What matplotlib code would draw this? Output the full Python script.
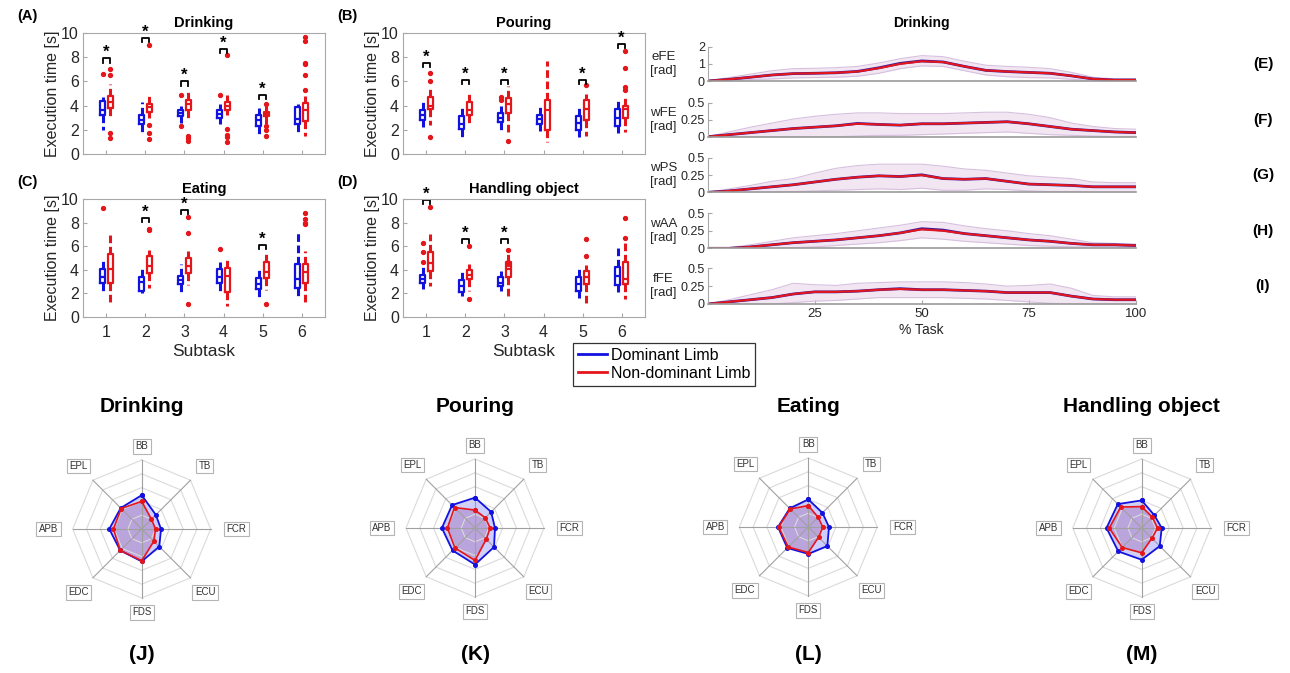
import numpy as np
import matplotlib
matplotlib.use('Agg')
import matplotlib.pyplot as plt
from matplotlib.lines import Line2D

plt.rcParams['font.family'] = ['Liberation Sans', 'DejaVu Sans']

# ---------------- data: execution time box plots (lo, q1, med, q3, hi) ----------------
subtasks = [1, 2, 3, 4, 5, 6]

drink_dom = [[2.0, 3.2, 3.6, 4.4, 4.7], [1.7, 2.5, 2.8, 3.2, 4.3], [2.6, 3.1, 3.35, 3.6, 4.0],
             [2.5, 3.0, 3.3, 3.6, 4.1], [1.5, 2.3, 2.8, 3.2, 3.8], [1.8, 2.5, 2.9, 3.85, 4.1]]
drink_dom_out = [[6.6], [], [4.9, 2.3], [4.9], [], []]
drink_nd = [[3.0, 3.8, 4.3, 4.8, 5.8], [3.0, 3.5, 3.9, 4.1, 5.0], [3.0, 3.6, 4.1, 4.5, 5.2],
            [3.2, 3.6, 4.0, 4.3, 4.9], [2.5, 3.1, 3.3, 3.5, 4.0], [1.5, 2.75, 3.6, 4.2, 4.8]]
drink_nd_out = [[6.5, 7.0, 1.7, 1.35], [2.4, 1.7, 1.2, 9.0], [1.5, 1.3, 1.1],
                [2.1, 1.6, 1.4, 1.0, 8.2], [4.1, 2.3, 2.0, 1.5], [9.7, 9.3, 7.4, 7.5, 6.5, 5.3]]
drink_sig = [7.9, 9.6, 6.0, 8.7, 4.9, None]

pour_dom = [[2.2, 2.8, 3.2, 3.6, 4.3], [1.4, 2.1, 2.5, 3.1, 4.0], [1.8, 2.65, 3.0, 3.35, 4.0],
            [1.9, 2.5, 2.9, 3.2, 4.0], [1.4, 2.0, 2.6, 3.1, 4.0], [1.7, 2.3, 3.0, 3.75, 4.5]]
pour_dom_out = [[], [], [4.5, 4.7], [], [], []]
pour_nd = [[2.4, 3.7, 4.0, 4.7, 5.4], [2.5, 3.2, 3.6, 4.3, 5.0], [1.8, 3.35, 4.1, 4.6, 5.6],
           [1.0, 2.0, 3.6, 4.5, 7.7], [1.5, 2.85, 3.7, 4.45, 5.0], [1.8, 3.0, 3.7, 4.0, 4.6]]
pour_nd_out = [[6.7, 6.0, 1.4], [], [1.1], [], [5.7], [8.5, 7.1, 5.5, 5.3]]
pour_sig = [7.5, 6.1, 6.1, None, 6.1, 9.1]

eat_dom = [[2.2, 2.9, 3.4, 4.1, 5.0], [2.0, 2.2, 3.0, 3.4, 4.1], [2.0, 2.8, 3.1, 3.5, 4.5],
           [2.2, 2.9, 3.4, 4.1, 4.7], [1.7, 2.4, 2.8, 3.3, 4.1], [1.8, 2.5, 3.2, 4.5, 7.3]]
eat_dom_out = [[9.2], [], [], [5.8], [], []]
eat_nd = [[1.3, 2.9, 4.1, 5.3, 7.1], [2.5, 3.7, 4.3, 5.2, 5.7], [2.7, 3.7, 4.3, 5.0, 5.6],
          [0.9, 2.1, 3.5, 4.15, 5.1], [2.3, 3.3, 3.8, 4.7, 5.5], [1.2, 2.9, 3.8, 4.5, 5.6]]
eat_nd_out = [[], [7.5, 7.4], [7.1, 8.5, 1.1], [], [1.1], [8.0, 7.9, 8.3, 8.8]]
eat_sig = [None, 8.4, 9.1, None, 6.1, None]

hand_dom = [[2.4, 2.9, 3.2, 3.6, 4.2], [1.8, 2.1, 2.6, 3.1, 4.0], [2.2, 2.65, 2.9, 3.35, 3.9],
            None, [1.6, 2.2, 2.8, 3.4, 4.1], [2.1, 2.7, 3.5, 4.2, 6.0]]
hand_dom_out = [[6.3, 5.5, 4.7], [], [], [], [], []]
hand_nd = [[2.6, 3.9, 4.6, 5.5, 7.0], [2.2, 3.2, 3.6, 4.0, 4.5], [1.8, 3.4, 4.1, 4.7, 5.5],
           None, [1.0, 2.8, 3.4, 3.9, 4.4], [1.5, 2.8, 3.2, 4.7, 6.4]]
hand_nd_out = [[9.3], [6.0, 1.5], [5.7, 4.7, 4.5], [], [6.6, 5.2], [8.4, 6.7]]
hand_sig = [9.9, 6.6, 6.6, None, None, None]

# ---------------- data: joint angle time series (Drinking) ----------------
pct = [0, 5, 10, 15, 20, 25, 30, 35, 40, 45, 50, 55, 60, 65, 70, 75, 80, 85, 90, 95, 100]

efe_dom = [0, 0.1, 0.22, 0.35, 0.43, 0.45, 0.48, 0.56, 0.77, 1.03, 1.17, 1.11, 0.85, 0.62, 0.55, 0.5, 0.45, 0.3, 0.12, 0.06, 0.06]
efe_nd = [0, 0.1, 0.22, 0.35, 0.43, 0.45, 0.48, 0.55, 0.75, 1.0, 1.15, 1.1, 0.85, 0.62, 0.55, 0.5, 0.45, 0.3, 0.12, 0.06, 0.06]
efe_hi = [0, 0.2, 0.4, 0.6, 0.72, 0.74, 0.78, 0.85, 1.05, 1.3, 1.48, 1.42, 1.15, 0.92, 0.85, 0.8, 0.72, 0.5, 0.22, 0.12, 0.12]
efe_lo = [0, 0.02, 0.08, 0.12, 0.18, 0.2, 0.22, 0.28, 0.45, 0.72, 0.88, 0.85, 0.6, 0.35, 0.25, 0.2, 0.18, 0.1, 0.02, 0.0, 0.0]

wfe_dom = [0, 0.03, 0.06, 0.09, 0.12, 0.14, 0.16, 0.195, 0.18, 0.17, 0.19, 0.19, 0.2, 0.21, 0.22, 0.19, 0.15, 0.11, 0.09, 0.07, 0.06]
wfe_nd = [0, 0.03, 0.06, 0.09, 0.12, 0.14, 0.16, 0.19, 0.18, 0.17, 0.19, 0.19, 0.2, 0.21, 0.22, 0.19, 0.15, 0.11, 0.09, 0.07, 0.06]
wfe_hi = [0, 0.07, 0.14, 0.2, 0.26, 0.3, 0.33, 0.35, 0.35, 0.34, 0.34, 0.34, 0.35, 0.36, 0.36, 0.33, 0.28, 0.2, 0.15, 0.12, 0.11]
wfe_lo = [0, 0, 0, 0, 0, 0, 0, 0.01, 0.02, 0.02, 0.03, 0.04, 0.05, 0.06, 0.07, 0.05, 0.03, 0.02, 0.01, 0, 0]

wps_dom = [0, 0.02, 0.05, 0.08, 0.11, 0.15, 0.19, 0.22, 0.24, 0.23, 0.255, 0.2, 0.19, 0.2, 0.16, 0.12, 0.11, 0.1, 0.08, 0.08, 0.08]
wps_nd = [0, 0.02, 0.05, 0.08, 0.11, 0.15, 0.19, 0.22, 0.24, 0.23, 0.25, 0.2, 0.19, 0.2, 0.16, 0.12, 0.11, 0.1, 0.08, 0.08, 0.08]
wps_hi = [0, 0.05, 0.1, 0.16, 0.2, 0.28, 0.35, 0.39, 0.41, 0.41, 0.41, 0.38, 0.34, 0.32, 0.28, 0.24, 0.22, 0.2, 0.15, 0.14, 0.14]
wps_lo = [0, 0, 0, 0, 0.01, 0.02, 0.03, 0.04, 0.05, 0.04, 0.06, 0.03, 0.03, 0.05, 0.04, 0.02, 0.01, 0.01, 0.0, 0.0, 0.0]

waa_dom = [0, 0.0, 0.02, 0.05, 0.08, 0.1, 0.12, 0.15, 0.18, 0.22, 0.28, 0.26, 0.21, 0.18, 0.15, 0.12, 0.1, 0.07, 0.05, 0.05, 0.04]
waa_nd = [0, 0.0, 0.02, 0.05, 0.08, 0.1, 0.12, 0.15, 0.18, 0.22, 0.27, 0.25, 0.21, 0.18, 0.15, 0.12, 0.1, 0.07, 0.05, 0.05, 0.04]
waa_hi = [0, 0.01, 0.05, 0.1, 0.15, 0.18, 0.21, 0.25, 0.29, 0.33, 0.38, 0.37, 0.32, 0.28, 0.25, 0.21, 0.18, 0.13, 0.08, 0.07, 0.06]
waa_lo = [0, 0, 0, 0, 0.01, 0.02, 0.04, 0.06, 0.08, 0.11, 0.15, 0.13, 0.1, 0.08, 0.06, 0.04, 0.03, 0.02, 0.02, 0.02, 0.02]

ffe_dom = [0, 0.03, 0.06, 0.09, 0.14, 0.17, 0.17, 0.18, 0.2, 0.215, 0.2, 0.2, 0.19, 0.18, 0.16, 0.16, 0.16, 0.11, 0.07, 0.06, 0.06]
ffe_nd = [0, 0.03, 0.06, 0.09, 0.14, 0.17, 0.17, 0.18, 0.2, 0.21, 0.2, 0.2, 0.19, 0.18, 0.16, 0.16, 0.16, 0.11, 0.07, 0.06, 0.06]
ffe_hi = [0, 0.06, 0.13, 0.2, 0.29, 0.27, 0.26, 0.29, 0.3, 0.31, 0.31, 0.31, 0.3, 0.28, 0.25, 0.26, 0.28, 0.22, 0.12, 0.1, 0.1]
ffe_lo = [0, 0, 0, 0, 0.02, 0.04, 0.05, 0.07, 0.09, 0.09, 0.09, 0.09, 0.08, 0.07, 0.05, 0.03, 0.01, 0, 0, 0, 0]

# ---------------- data: muscle activation radar charts ----------------
muscles = ['BB', 'TB', 'FCR', 'ECU', 'FDS', 'EDC', 'APB', 'EPL']
radar_drink_dom = [0.49, 0.29, 0.28, 0.36, 0.47, 0.44, 0.47, 0.43]
radar_drink_nd = [0.40, 0.20, 0.20, 0.25, 0.46, 0.44, 0.41, 0.42]
radar_pour_dom = [0.44, 0.33, 0.29, 0.39, 0.53, 0.46, 0.48, 0.47]
radar_pour_nd = [0.26, 0.21, 0.22, 0.23, 0.47, 0.41, 0.40, 0.42]
radar_eat_dom = [0.40, 0.29, 0.30, 0.39, 0.39, 0.43, 0.44, 0.38]
radar_eat_nd = [0.31, 0.20, 0.21, 0.21, 0.37, 0.41, 0.43, 0.37]
radar_hand_dom = [0.40, 0.26, 0.29, 0.37, 0.46, 0.48, 0.51, 0.49]
radar_hand_nd = [0.31, 0.22, 0.23, 0.21, 0.36, 0.40, 0.47, 0.43]

# ---------------- styling ----------------
W, H = 1290, 673
BLUE = '#1212e0'
RED = '#e5161b'
AXGRAY = '#a8a8a8'
TXT = '#262626'

fig = plt.figure(figsize=(W / 100, H / 100), dpi=100)


def ax_px(l, t, r, b, **kw):
    return fig.add_axes([l / W, 1 - b / H, (r - l) / W, (b - t) / H], **kw)


def box_panel(l, t, r, b, dom, dom_out, nd, nd_out, sig, title, panel, bottom):
    ax = ax_px(l, t, r, b)
    for i, s in enumerate(subtasks):
        for stats, outs, off, col in ((dom[i], dom_out[i], -0.1, BLUE),
                                      (nd[i], nd_out[i], 0.1, RED)):
            if stats is not None:
                lo, q1, med, q3, hi = stats
                st = dict(whislo=lo, q1=q1, med=med, q3=q3, whishi=hi, fliers=[])
                ax.bxp([st], positions=[s + off], widths=0.13, showcaps=False,
                       manage_ticks=False,
                       boxprops=dict(color=col, lw=1.6),
                       medianprops=dict(color=col, lw=1.6),
                       whiskerprops=dict(color=col, lw=2.2, ls=(0, (2.5, 1.2))))
            if outs:
                ax.plot([s + off] * len(outs), outs, ls='none', marker='o', ms=2.8,
                        mfc=RED, mec=RED, clip_on=False)
        if sig[i] is not None:
            h = sig[i]
            ax.plot([s - 0.1, s - 0.1, s + 0.1, s + 0.1], [h - 0.35, h, h, h - 0.35],
                    color='k', lw=1.3, clip_on=False)
            ax.text(s, h - 0.15, '*', ha='center', va='bottom', fontsize=12,
                    fontweight='bold', color='k', clip_on=False)
    ax.set_xlim(0.4, 6.6)
    ax.set_ylim(0, 10)
    ax.set_yticks([0, 2, 4, 6, 8, 10])
    ax.set_xticks(subtasks)
    ax.tick_params(direction='in', length=3, color=AXGRAY, labelsize=11.5,
                   labelcolor=TXT, pad=3)
    ax.tick_params(axis='x', pad=6)
    if bottom:
        ax.set_xlabel('Subtask', fontsize=12.5, color=TXT, labelpad=3)
    else:
        ax.set_xticklabels([])
    ax.set_ylabel('Execution time [s]', fontsize=11.5, color=TXT, labelpad=1)
    for sp in ax.spines.values():
        sp.set_color(AXGRAY)
    ax.set_title(title, fontsize=10.5, fontweight='bold', color='k', pad=4)
    fig.text((l - 66) / W, 1 - (t - 17) / H, panel, fontsize=10.5, fontweight='bold',
             ha='left', va='center')
    return ax


box_panel(83, 33, 325, 154, drink_dom, drink_dom_out, drink_nd, drink_nd_out, drink_sig,
          'Drinking', '(A)', False)
box_panel(403, 33, 645, 154, pour_dom, pour_dom_out, pour_nd, pour_nd_out, pour_sig,
          'Pouring', '(B)', False)
box_panel(83, 199, 325, 317, eat_dom, eat_dom_out, eat_nd, eat_nd_out, eat_sig,
          'Eating', '(C)', True)
box_panel(403, 199, 645, 317, hand_dom, hand_dom_out, hand_nd, hand_nd_out, hand_sig,
          'Handling object', '(D)', True)

# legend
handles = [Line2D([], [], color=BLUE, lw=2), Line2D([], [], color=RED, lw=2)]
leg = fig.legend(handles, ['Dominant Limb', 'Non-dominant Limb'], loc='upper left',
                 bbox_to_anchor=(573 / W, 1 - 343 / H), fontsize=11.5, frameon=True,
                 fancybox=False, edgecolor='k', borderpad=0.3, labelspacing=0.2,
                 handlelength=1.8, handletextpad=0.3, borderaxespad=0)
leg.get_frame().set_linewidth(0.9)

# time series panels
ts = [
    ('eFE\n[rad]', efe_dom, efe_nd, efe_lo, efe_hi, (0, 2), [0, 1, 2], ['0', '1', '2'], '(E)', 46.7, 81),
    ('wFE\n[rad]', wfe_dom, wfe_nd, wfe_lo, wfe_hi, (0, 0.5), [0, 0.25, 0.5], ['0', '0.25', '0.5'], '(F)', 102.7, 136.7),
    ('wPS\n[rad]', wps_dom, wps_nd, wps_lo, wps_hi, (0, 0.5), [0, 0.25, 0.5], ['0', '0.25', '0.5'], '(G)', 158, 192.3),
    ('wAA\n[rad]', waa_dom, waa_nd, waa_lo, waa_hi, (0, 0.5), [0, 0.25, 0.5], ['0', '0.25', '0.5'], '(H)', 213.3, 248.3),
    ('fFE\n[rad]', ffe_dom, ffe_nd, ffe_lo, ffe_hi, (0, 0.5), [0, 0.25, 0.5], ['0', '0.25', '0.5'], '(I)', 268.3, 304),
]
TS_L, TS_R = 707.7, 1135.7
for k, (lab, mdom, mnd, lo, hi, ylim, yt, ytl, plab, t, b) in enumerate(ts):
    ax = ax_px(TS_L, t, TS_R, b)
    ax.fill_between(pct, lo, hi, color='#f3e6f3', lw=0)
    ax.plot(pct, hi, color='#d6c0de', lw=0.8)
    ax.plot(pct, lo, color='#d6c0de', lw=0.8)
    ax.plot(pct, mdom, color='#3a1aa0', lw=2.0)
    ax.plot(pct, mnd, color=RED, lw=1.5)
    ax.set_xlim(0, 100)
    ax.set_ylim(*ylim)
    ax.set_yticks(yt)
    ax.set_yticklabels(ytl)
    for sp in ('top', 'right'):
        ax.spines[sp].set_visible(False)
    ax.spines['left'].set_color(AXGRAY)
    ax.spines['bottom'].set_color('#9a9a9a')
    ax.spines['bottom'].set_linewidth(1.2)
    ax.tick_params(axis='y', direction='in', length=3, color=AXGRAY, labelsize=9,
                   labelcolor=TXT, pad=2)
    if k == len(ts) - 1:
        ax.set_xticks([25, 50, 75, 100])
        ax.tick_params(axis='x', direction='in', length=3, color=AXGRAY, labelsize=9.5,
                       labelcolor=TXT, pad=3)
        ax.set_xlabel('% Task', fontsize=10, color=TXT, labelpad=2)
    else:
        ax.set_xticks([])
    ax.set_ylabel(lab, rotation=0, ha='center', va='center', fontsize=9.5, color=TXT)
    ax.yaxis.set_label_coords(-0.103, 0.5)
    if k == 0:
        ax.set_title('Drinking', fontsize=10, fontweight='bold', pad=14)
    fig.text(1263 / W, 1 - ((t + b) / 2) / H, plab, fontsize=11, fontweight='bold',
             ha='center', va='center')

# radar charts
angles = np.deg2rad([0, 45, 90, 135, 180, 225, 270, 315])
label_r = [1.2, 1.29, 1.37, 1.3, 1.21, 1.3, 1.35, 1.29]
radars = [
    (141.7, 529, radar_drink_dom, radar_drink_nd, 'Drinking', '(J)'),
    (475, 528, radar_pour_dom, radar_pour_nd, 'Pouring', '(K)'),
    (808.3, 527, radar_eat_dom, radar_eat_nd, 'Eating', '(L)'),
    (1141.7, 528, radar_hand_dom, radar_hand_nd, 'Handling object', '(M)'),
]
R = 69
th = np.append(angles, angles[0])
for cx, cy, dvals, nvals, title, plab in radars:
    ax = fig.add_axes([(cx - R) / W, 1 - (cy + R) / H, 2 * R / W, 2 * R / H],
                      projection='polar')
    ax.set_theta_zero_location('N')
    ax.set_theta_direction(-1)
    ax.set_ylim(0, 1)
    ax.set_axis_off()
    for rr in [0.2, 0.4, 0.6, 0.8, 1.0]:
        ax.plot(th, [rr] * len(th), color='#dadada', lw=0.8, clip_on=False)
    for a in angles:
        ax.plot([a, a], [0, 1], color='#a0a0a0', lw=0.8, clip_on=False)
    d = np.append(dvals, dvals[0])
    n = np.append(nvals, nvals[0])
    ax.fill(th, d, color='#3a3aff', alpha=0.25, lw=0)
    ax.plot(th, d, color=BLUE, lw=1.3, marker='o', ms=2.6)
    ax.fill(th, n, color='#985a9b', alpha=0.35, lw=0)
    ax.plot(th, n, color=RED, lw=1.2, marker='o', ms=2.6)
    for a, lab, rr in zip(angles, muscles, label_r):
        ax.text(a, rr, lab, ha='center', va='center', fontsize=7, color='#333333',
                bbox=dict(boxstyle='square,pad=0.25', fc='white', ec='#b4b4b4', lw=0.8),
                clip_on=False)
    fig.text(cx / W, 1 - 407 / H, title, fontsize=15, fontweight='bold',
             ha='center', va='center')
    fig.text(cx / W, 1 - 655 / H, plab, fontsize=15, fontweight='bold',
             ha='center', va='center')

fig.savefig('out.png', dpi=100, facecolor='white')
